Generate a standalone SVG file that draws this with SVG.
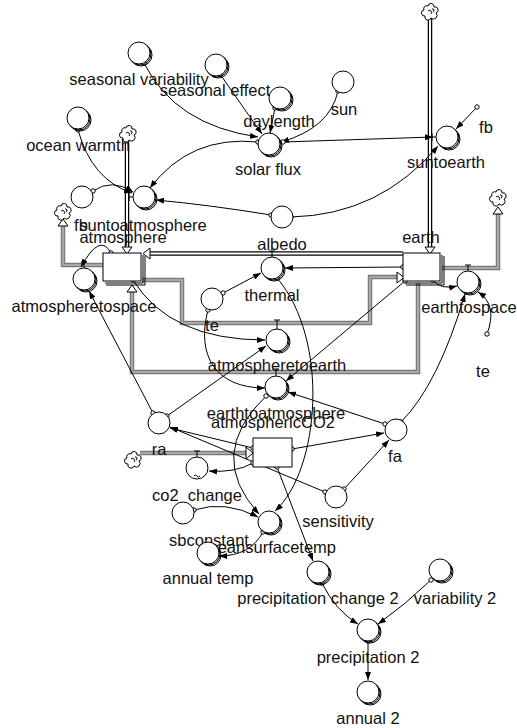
<svg xmlns="http://www.w3.org/2000/svg" xmlns:xlink="http://www.w3.org/1999/xlink" width="517" height="728" viewBox="0 0 517 728">
<style>
.c{fill:#fff;stroke:#000;stroke-width:1}
.s{fill:none;stroke:#000;stroke-width:1}
.lk{fill:none;stroke:#000;stroke-width:1;marker-start:url(#o);marker-end:url(#a)}
.pb{fill:none;stroke:#000;stroke-width:4.5}
.pw{fill:none;stroke:#fff;stroke-width:2}
.pg{fill:none;stroke:#7a7a7a;stroke-width:4.5}
.pgw{fill:none;stroke:#a8a8a8;stroke-width:2}
.tri{fill:#fff;stroke:#000;stroke-width:1}
.tk{fill:none;stroke:#000;stroke-width:1}
text{font-family:"Liberation Sans",Arial,sans-serif;font-size:16.5px;text-anchor:middle;fill:#111}
</style>
<defs>
<marker id="a" markerWidth="8" markerHeight="6" refX="8" refY="3" orient="auto" markerUnits="userSpaceOnUse"><path d="M0,0L8,3L0,6z" fill="#000"/></marker>
<marker id="o" markerWidth="6" markerHeight="6" refX="3" refY="3" markerUnits="userSpaceOnUse"><circle cx="3" cy="3" r="2.2" fill="#fff" stroke="#000" stroke-width="1"/></marker>
<g id="aux"><circle r="11" class="c"/></g>
<g id="auxs"><circle cx="2" cy="2" r="11" class="s"/><circle cx="1" cy="1" r="11" class="s"/><circle r="11" class="c"/></g>
<g id="cloud"><path d="M-2,-6A3,3 0 0 1 4,-5A3,3 0 0 1 6,1A3,3 0 0 1 1,6A3,3 0 0 1 -5,4A3,3 0 0 1 -6,-2A3,3 0 0 1 -2,-6Z" class="c"/><path d="M-2,-1A2,2 0 1 1 1,2M2,-3A1.5,1.5 0 0 1 3,0" class="s"/></g>
</defs>
<rect width="517" height="728" fill="#fff"/>

<g id="pipes">
<path class="pb" d="M430,18V247"/><path class="pw" d="M430,18V247"/>
<path class="tri" d="M425,247L435,247L430,254z"/>
<path class="pb" d="M127,141V247"/><path class="pw" d="M127,141V247"/>
<path class="tri" d="M122,247L132,247L127,254z"/>
<path class="pb" d="M403,253.5H150"/><path class="pw" d="M403,253.5H150"/>
<path class="tri" d="M150,248L150,259L143,253.5z"/>
<path class="pg" d="M103,265H63V226"/><path class="pgw" d="M103,265H63V226"/>
<path class="tri" d="M58,226L68,226L63,219z"/>
<path class="pg" d="M442,268H498V214"/><path class="pgw" d="M442,268H498V214"/>
<path class="tri" d="M493,214L503,214L498,207z"/>
<path class="pg" d="M142,280H182V323H370V277H397"/><path class="pgw" d="M142,280H182V323H370V277H397"/>
<path class="tri" d="M397,272L397,283L404,277.5z"/>
<path class="pg" d="M418,283V372H132V292"/><path class="pgw" d="M418,283V372H132V292"/>
<path class="tri" d="M127,292L137,292L132,285z"/>
<path class="pg" d="M140,453H246"/><path class="pgw" d="M140,453H246"/>
<path class="tri" d="M246,447L246,459L253,453z"/>
<use xlink:href="#cloud" x="430" y="12"/>
<use xlink:href="#cloud" x="128" y="134"/>
<use xlink:href="#cloud" x="63" y="212"/>
<use xlink:href="#cloud" x="498" y="198"/>
<use xlink:href="#cloud" x="133" y="460"/>
</g>

<g id="connectors">
<path class="lk" d="M144,63Q175,125 258,137"/>
<path class="lk" d="M220,74Q245,110 262,134"/>
<path class="lk" d="M275,108L270,133"/>
<path class="lk" d="M338,91Q330,128 281,142"/>
<path class="lk" d="M283,142L433,137"/>
<path class="lk" d="M477,107L456,129"/>
<path class="lk" d="M258,142Q190,135 150,188"/>
<path class="lk" d="M78,130Q92,180 132,193"/>
<path class="lk" d="M93,191Q112,178 133,192"/>
<path class="lk" d="M291,217Q380,215 438,146"/>
<path class="lk" d="M271,215Q210,205 156,200"/>
<path class="lk" d="M111,253Q100,232 81,267"/>
<path class="lk" d="M133,280Q170,340 265,340"/>
<path class="lk" d="M223,293L261,273"/>
<path class="lk" d="M208,310C196,355 215,388 265,388"/>
<path class="lk" d="M403,267L285,268"/>
<path class="lk" d="M277,278C330,340 320,470 275,511"/>
<path class="lk" d="M405,281L286,381"/>
<path class="lk" d="M433,280Q440,290 457,286"/>
<path class="lk" d="M487,334Q498,305 478,292"/>
<path class="lk" d="M401,422Q438,385 465,294"/>
<path class="lk" d="M385,424L288,392"/>
<path class="lk" d="M292,449L384,433"/>
<path class="lk" d="M344,489L389,440"/>
<path class="lk" d="M325,492L170,427"/>
<path class="lk" d="M253,448L170,428"/>
<path class="lk" d="M153,413L89,291"/>
<path class="lk" d="M167,416L266,346"/>
<path class="lk" d="M253,463Q235,473 209,471"/>
<path class="lk" d="M277,467L313,561"/>
<path class="lk" d="M266,396Q205,455 259,514"/>
<path class="lk" d="M194,510Q225,500 258,517"/>
<path class="lk" d="M263,532Q250,556 219,556"/>
<path class="lk" d="M322,583Q335,610 358,624"/>
<path class="lk" d="M431,580Q405,605 378,624"/>
<path class="lk" d="M368,641L368,680"/>
</g>

<g id="seasonal_variability"><use xlink:href="#auxs" x="139" y="53"/><text x="139" y="85">seasonal variability</text></g>
<g id="seasonal_effect"><use xlink:href="#auxs" x="216" y="65"/><text x="215" y="96">seasonal effect</text></g>
<g id="ocean_warmth"><use xlink:href="#auxs" x="78" y="118"/><text x="78" y="151">ocean warmth</text></g>
<g id="sun"><use xlink:href="#aux" x="343" y="82"/><text x="344" y="115">sun</text></g>
<g id="daylength"><use xlink:href="#auxs" x="280" y="98"/><text x="279" y="127">daylength</text></g>
<g id="solar_flux"><use xlink:href="#auxs" x="269" y="144"/><text x="268" y="175">solar flux</text></g>
<g id="suntoearth"><path class="tk" d="M432,133V141M432,137H436"/><use xlink:href="#auxs" x="447" y="137"/><text x="446" y="168">suntoearth</text></g>
<g id="fb_ghost_right"><text x="486" y="133">fb</text></g>
<g id="fb_ghost_left"><use xlink:href="#aux" x="82" y="197"/><text x="81" y="231">fb</text></g>
<g id="suntoatmosphere"><path class="tk" d="M129,193V201M129,197H133"/><use xlink:href="#auxs" x="144" y="197"/><text x="143" y="231">suntoatmosphere</text></g>
<g id="atmosphere"><path class="s" d="M143,255V283H105M145,256V285H106"/><rect x="103" y="253" width="38" height="28" class="c"/><text x="123" y="243">atmosphere</text></g>
<g id="earth"><path class="s" d="M442,255V283H405M444,256V285H406"/><rect x="403" y="253" width="37" height="28" class="c"/><text x="421" y="243">earth</text></g>
<g id="albedo"><use xlink:href="#aux" x="282" y="217"/><text x="282" y="250">albedo</text></g>
<g id="thermal"><path class="tk" d="M269,251H275M272,251V257"/><use xlink:href="#auxs" x="272" y="268"/><text x="272" y="301">thermal</text></g>
<g id="te"><use xlink:href="#aux" x="212" y="299"/><text x="212" y="331">te</text></g>
<g id="atmospheretospace"><path class="tk" d="M81,262H87M84,262V268"/><use xlink:href="#auxs" x="84" y="279"/><text x="84" y="312">atmospheretospace</text></g>
<g id="earthtospace"><path class="tk" d="M465,265H471M468,265V271"/><use xlink:href="#auxs" x="468" y="282"/><text x="469" y="313">earthtospace</text></g>
<g id="te_ghost_right"><text x="483" y="377">te</text></g>
<g id="atmospheretoearth"><path class="tk" d="M274,320H280M277,320V329"/><use xlink:href="#auxs" x="277" y="340"/><text x="277" y="371">atmospheretoearth</text></g>
<g id="earthtoatmosphere"><path class="tk" d="M273,369H279M276,369V376"/><use xlink:href="#auxs" x="276" y="387"/><text x="276" y="419">earthtoatmosphere</text></g>
<g id="atmosphericCO2"><rect x="253" y="438" width="39" height="29" class="c"/><text x="273" y="428">atmosphericCO2</text></g>
<g id="ra"><use xlink:href="#aux" x="159" y="423"/><text x="159" y="455">ra</text></g>
<g id="co2_change"><path class="tk" d="M194,451H200M197,451V457"/><use xlink:href="#aux" x="197" y="468"/><path class="s" d="M194,476q1.5,-2 3,0t3,0" stroke-width="0.8"/><text x="197" y="501">co2_change</text></g>
<g id="fa"><use xlink:href="#aux" x="396" y="430"/><text x="395" y="462">fa</text></g>
<g id="sensitivity"><use xlink:href="#aux" x="336" y="497"/><text x="338" y="527">sensitivity</text></g>
<g id="sbconstant"><use xlink:href="#aux" x="183" y="513"/><text x="209" y="546">sbconstant</text></g>
<g id="meansurfacetemp"><use xlink:href="#auxs" x="269" y="522"/><text x="270" y="553">meansurfacetemp</text></g>
<g id="annual_temp"><use xlink:href="#auxs" x="208" y="553"/><text x="208" y="584">annual temp</text></g>
<g id="precipitation_change_2"><use xlink:href="#auxs" x="318" y="572"/><text x="318" y="604">precipitation change 2</text></g>
<g id="variability_2"><use xlink:href="#auxs" x="440" y="570"/><text x="455" y="604">variability 2</text></g>
<g id="precipitation_2"><use xlink:href="#auxs" x="368" y="630"/><text x="368" y="663">precipitation 2</text></g>
<g id="annual_2"><use xlink:href="#auxs" x="368" y="692"/><text x="368" y="724">annual 2</text></g>
</svg>
